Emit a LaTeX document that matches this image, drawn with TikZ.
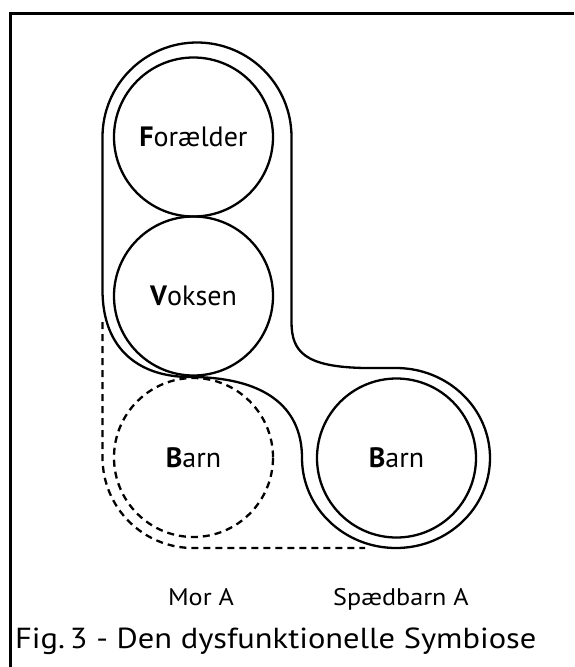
\documentclass[tikz,border=0pt]{standalone}
\usepackage{fontspec}
\setmainfont{PT Sans}
\newfontfamily\widefont[FakeStretch=1.09]{PT Sans}
\newfontfamily\capfont[FakeStretch=1.12]{PT Sans}
\begin{document}
\begin{tikzpicture}[x=1pt,y=-1pt,
  circ/.style={circle,draw,line width=2.3pt,minimum size=159pt,inner sep=0pt,font=\fontsize{28}{32}\selectfont},
  circdash/.style={circ,dash pattern=on 7pt off 5pt},
  env/.style={line width=2.3pt,line join=round},
  dsh/.style={line width=2.3pt,dash pattern=on 7pt off 5pt},
  lbl/.style={font=\widefont\fontsize{24}{28}\selectfont,anchor=base,inner sep=0pt},
  frame/.style={line width=3pt}]
\useasboundingbox (0,0) rectangle (574,667);
% frame
\draw[frame] (574,13) -- (10,13) -- (10,667);
% circles
\node[circ] (F) at (193.5,137) {\textbf{F}orælder};
\node[circ] (V) at (193.5,296) {\textbf{V}oksen};
\node[circdash] (B1) at (193.5,457.5) {\textbf{B}arn};
\node[circ] (B2) at (396.5,458) {\textbf{B}arn};
% envelope
\draw[env] (102.5,137) arc[start angle=180,end angle=360,radius=94.5]
  -- (291.5,322)
  .. controls (291.5,352) and (305,367) .. (365,368)
  -- (396,368)
  arc[start angle=-90,end angle=180,x radius=94,y radius=90]
  .. controls (302,405) and (262,377) .. (190,377)
  .. controls (140,377) and (102.5,350) .. (102.5,290)
  -- cycle;
% dashed envelope
\draw[dsh] (102.5,322) -- (102.5,457.5)
  arc[start angle=180,end angle=90,radius=90.5] -- (365,548);
% labels
\node[lbl] (mor) at (201,605) {Mor A};
\node[lbl] (spaed) at (401,605) {Spædbarn A};
\node[anchor=base west,inner sep=0pt,font=\capfont\fontsize{29}{33}\selectfont] (cap) at (15,648) {Fig.\,3 - Den dysfunktionelle Symbiose};
\end{tikzpicture}
\end{document}
